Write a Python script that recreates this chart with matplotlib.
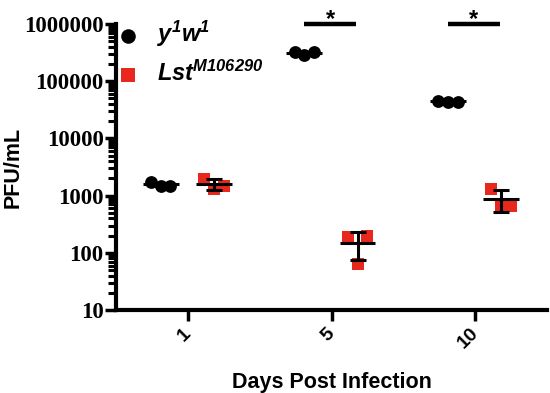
import numpy as np
import matplotlib
matplotlib.use("Agg")
import matplotlib.pyplot as plt
from matplotlib.ticker import LogLocator, FixedLocator, NullFormatter

# data (PFU/mL, three replicates per group)
days = ["1", "5", "10"]
wt_vals = [[1700, 1500, 1500], [320000, 285000, 320000], [45000, 44000, 44000]]
lst_vals = [[1990, 1330, 1500], [190, 65, 200], [1330, 670, 670]]
sig_days = [1, 2]

RED = "#e8281c"
plt.rcParams["font.family"] = ["Liberation Sans", "DejaVu Sans"]
plt.rcParams["mathtext.fontset"] = "custom"
plt.rcParams["mathtext.bf"] = "Liberation Sans:bold:italic"

fig = plt.figure(figsize=(5.5, 3.93), dpi=100)
ax = fig.add_axes([0.211, 0.211, 0.784, 0.728])
ax.set_yscale("log")

jitter = np.array([-0.068, 0.0, 0.068])
lw = 2.2
for i in range(len(days)):
    for vals, off, mk, sz, col in [(wt_vals[i], -0.19, "o", 85, "black"),
                                   (lst_vals[i], 0.18, "s", 75, RED)]:
        x = i + off + jitter
        ax.scatter(x, vals, marker=mk, s=sz, color=col, zorder=3, linewidths=0)
        m = np.mean(vals)
        sd = np.std(vals, ddof=1)
        ax.plot([i + off - 0.125, i + off + 0.125], [m, m], color="black", lw=lw, zorder=4,
                solid_capstyle="butt")
        ax.errorbar(i + off, m, yerr=sd, fmt="none", ecolor="black", elinewidth=lw,
                    capsize=5.5, capthick=lw, zorder=4)

for d in sig_days:
    ax.plot([d - 0.19, d + 0.17], [1.0e6, 1.0e6], color="black", lw=3.2,
            solid_capstyle="butt", clip_on=False)
    ax.text(d - 0.01, 1.2e6, "*", ha="center", va="center", fontsize=17, fontweight="bold")

ax.set_xlim(-0.5, 2.5)
ax.set_ylim(10, 1.0e6)
ax.set_xticks(range(len(days)))
ax.set_xticklabels(days, rotation=45, fontsize=14, fontweight="bold",
                   ha="right", va="center", rotation_mode="anchor")
ax.yaxis.set_major_locator(FixedLocator([10, 100, 1000, 10000, 100000, 1000000]))
ax.set_yticklabels(["10", "100", "1000", "10000", "100000", "1000000"],
                   family="Liberation Serif", fontsize=16.5, fontweight="bold")
ax.yaxis.set_minor_locator(LogLocator(base=10, subs=np.arange(2, 10)))
ax.yaxis.set_minor_formatter(NullFormatter())

for s in ["top", "right"]:
    ax.spines[s].set_visible(False)
for s in ["left", "bottom"]:
    ax.spines[s].set_linewidth(3)
ax.tick_params(axis="both", which="major", length=8, width=2.5, pad=1)
ax.tick_params(axis="x", which="major", pad=7)
ax.tick_params(axis="y", which="minor", length=6, width=2.2)

ax.set_ylabel("PFU/mL", fontsize=15.5, fontweight="bold")
ax.yaxis.set_label_coords(-0.214, 0.5)
ax.set_xlabel("Days Post Infection", fontsize=15.5, fontweight="bold", labelpad=14)

h1 = ax.scatter([], [], marker="o", s=110, color="black", linewidths=0)
h2 = ax.scatter([], [], marker="s", s=95, color=RED, linewidths=0)
ax.legend([h1, h2], [r"$\mathbf{y^1w^1}$", r"$\mathbf{Lst^{M106290}}$"],
          loc="upper left", bbox_to_anchor=(-0.01, 1.035), frameon=False,
          prop={"size": 17}, borderpad=0.2, borderaxespad=0.0,
          handletextpad=0.7, labelspacing=0.5, handlelength=1.0)

fig.savefig("out.png", dpi=100)
